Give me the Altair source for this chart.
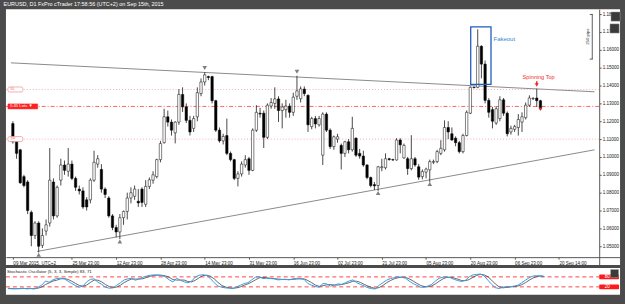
import json
import altair as alt
import pandas as pd

# ---------------- data ----------------
opens = [1.1187,1.1100,1.1040,1.0890,1.0860,1.0690,1.0560,1.0630,1.0505,1.0585,
         1.0630,1.0860,1.0670,1.0870,1.0955,1.0920,1.0960,1.0880,1.0820,1.0810,
         1.0760,1.0760,1.0870,1.0960,1.0930,1.0820,1.0770,1.0670,1.0605,1.0580,
         1.0660,1.0695,1.0770,1.0780,1.0752,1.0820,1.0735,1.0835,1.0870,1.0890,
         1.0985,1.1080,1.1225,1.1195,1.1135,1.1195,1.1350,1.1280,1.1205,1.1160,
         1.1225,1.1355,1.1420,1.1450,1.1450,1.1315,1.1150,1.1090,1.1120,1.1020,
         1.0985,1.0880,1.0905,1.0955,1.0990,1.0925,1.1150,1.1245,1.1245,1.1110,
         1.1285,1.1300,1.1325,1.1260,1.1265,1.1285,1.1250,1.1340,1.1326,1.1380,
         1.1345,1.1170,1.1215,1.1180,1.1010,1.1240,1.1150,1.1058,1.1100,1.1065,
         1.1020,1.1085,1.1040,1.1105,1.1020,1.1005,1.0955,1.0885,1.0845,1.0840,
         1.0940,1.0940,1.0990,1.0985,1.0983,1.1095,1.0995,1.0990,1.0935,1.0990,
         1.0945,1.0890,1.0915,1.0928,1.0970,1.0974,1.1020,1.1040,1.1165,1.1130,
         1.1105,1.1080,1.1030,1.1120,1.1245,1.1390,1.1390,1.1620,1.1520,1.1317,
         1.1265,1.1190,1.1215,1.1320,1.1245,1.1140,1.1155,1.1165,1.1195,1.1220,
         1.1290,1.1325,1.1330,1.1315]
highs = [1.1200,1.1110,1.1045,1.0900,1.0870,1.0700,1.0640,1.0640,1.0600,1.0650,
         1.1050,1.0880,1.0840,1.0990,1.0980,1.1050,1.0980,1.0890,1.0840,1.0830,
         1.0775,1.0880,1.1035,1.1010,1.0960,1.0830,1.0780,1.0680,1.0620,1.0680,
         1.0700,1.0800,1.0830,1.0840,1.0820,1.0830,1.0870,1.0885,1.0920,1.0990,
         1.1090,1.1270,1.1260,1.1210,1.1200,1.1380,1.1390,1.1300,1.1230,1.1230,
         1.1390,1.1440,1.1474,1.1455,1.1455,1.1320,1.1165,1.1130,1.1215,1.1030,
         1.0990,1.0920,1.0975,1.1010,1.1000,1.1160,1.1290,1.1275,1.1260,1.1300,
         1.1330,1.1390,1.1340,1.1300,1.1320,1.1300,1.1360,1.1455,1.1395,1.1395,
         1.1350,1.1225,1.1230,1.1230,1.1250,1.1250,1.1160,1.1120,1.1130,1.1075,
         1.1090,1.1100,1.1225,1.1110,1.1045,1.1035,1.0960,1.0890,1.0860,1.0950,
         1.0990,1.1020,1.0995,1.0990,1.1105,1.1105,1.1075,1.1000,1.1122,1.1000,
         1.0960,1.0930,1.0940,1.0985,1.0985,1.1040,1.1094,1.1205,1.1200,1.1165,
         1.1115,1.1090,1.1130,1.1260,1.1395,1.1395,1.1715,1.1625,1.1540,1.1330,
         1.1280,1.1285,1.1340,1.1330,1.1255,1.1175,1.1180,1.1240,1.1250,1.1305,
         1.1345,1.1335,1.1382,1.1320]
lows = [1.1075,1.0990,1.0850,1.0830,1.0680,1.0500,1.0540,1.0465,1.0490,1.0560,
        1.0610,1.0650,1.0660,1.0840,1.0900,1.0890,1.0870,1.0810,1.0790,1.0710,
        1.0700,1.0740,1.0860,1.0940,1.0800,1.0770,1.0660,1.0590,1.0550,1.0540,
        1.0620,1.0650,1.0740,1.0760,1.0720,1.0720,1.0720,1.0820,1.0850,1.0880,
        1.0970,1.1075,1.1170,1.1120,1.1076,1.1180,1.1252,1.1190,1.1120,1.1140,
        1.1200,1.1340,1.1400,1.1430,1.1300,1.1140,1.1080,1.1070,1.1010,1.0975,
        1.0870,1.0835,1.0890,1.0940,1.0900,1.0920,1.1140,1.1220,1.1050,1.1100,
        1.1270,1.1270,1.1196,1.1160,1.1220,1.1220,1.1230,1.1320,1.1305,1.1340,
        1.1140,1.1155,1.1160,1.1170,1.0955,1.1140,1.1045,1.1040,1.1080,1.0930,
        1.1000,1.1020,1.1030,1.1000,1.0990,1.0945,1.0875,1.0830,1.0815,1.0810,
        1.0920,1.0930,1.0980,1.0978,1.0980,1.1020,1.0990,1.0900,1.0925,1.0945,
        1.0872,1.0875,1.0880,1.0858,1.0960,1.0965,1.1010,1.1030,1.1100,1.1090,
        1.1060,1.1020,1.1020,1.1115,1.1240,1.1385,1.1385,1.1440,1.1300,1.1220,
        1.1160,1.1180,1.1200,1.1230,1.1115,1.1125,1.1140,1.1120,1.1140,1.1210,
        1.1280,1.1320,1.1280,1.1260]
closes = [1.1085,1.1020,1.0855,1.0840,1.0700,1.0560,1.0630,1.0500,1.0560,1.0620,
          1.0870,1.0670,1.0830,1.0955,1.0925,1.0960,1.0880,1.0830,1.0810,1.0720,
          1.0720,1.0870,1.0970,1.0990,1.0820,1.0790,1.0670,1.0605,1.0580,1.0660,
          1.0695,1.0770,1.0800,1.0820,1.0743,1.0745,1.0835,1.0872,1.0900,1.0985,
          1.1075,1.1225,1.1195,1.1150,1.1195,1.1350,1.1280,1.1205,1.1140,1.1215,
          1.1360,1.1420,1.1460,1.1445,1.1315,1.1150,1.1090,1.1115,1.1020,1.0985,
          1.0880,1.0905,1.0960,1.0985,1.0925,1.1150,1.1250,1.1240,1.1110,1.1290,
          1.1305,1.1325,1.1260,1.1280,1.1285,1.1250,1.1335,1.1370,1.1381,1.1355,
          1.1180,1.1215,1.1185,1.1215,1.1240,1.1150,1.1058,1.1113,1.1113,1.1020,
          1.1085,1.1040,1.1160,1.1010,1.1005,1.0955,1.0885,1.0840,1.0838,1.0945,
          1.0945,1.0990,1.0985,1.0983,1.1095,1.1068,1.1065,1.0935,1.0990,1.0955,
          1.0887,1.0918,1.0932,1.0974,1.0975,1.1030,1.1048,1.1165,1.1140,1.1095,
          1.1080,1.1030,1.1120,1.1250,1.1390,1.1388,1.1620,1.1520,1.1317,1.1250,
          1.1200,1.1270,1.1320,1.1245,1.1130,1.1160,1.1170,1.1210,1.1225,1.1290,
          1.1330,1.1328,1.1315,1.1270]

stoch_k = [10,8,9,10,12,8,10,
           8,18,30,55,48,62,70,72,68,
           55,40,28,18,25,50,65,68,
           48,35,18,12,14,30,45,62,
           68,72,60,68,78,85,90,92,
           90,88,80,62,50,72,60,50,
           45,55,80,90,93,88,70,45,
           25,18,14,12,10,20,30,40,
           45,62,78,82,70,72,70,68,
           62,64,66,62,68,72,68,65,
           40,30,22,18,40,38,25,30,
           38,35,45,55,62,45,35,25,
           15,9,8,30,45,60,70,75,
           80,78,72,55,40,30,18,18,
           25,35,55,72,78,80,75,65,
           58,52,60,80,92,95,97,85,
           60,35,15,10,18,22,20,25,
           30,45,60,75,85,87,87,83]
stoch_d = [11,10,9,9,10,10,10,
           9,12,19,34,44,55,60,68,70,
           65,54,41,29,24,31,47,61,
           60,50,34,22,15,19,30,46,
           58,67,67,67,69,77,84,89,
           91,90,86,77,64,61,61,61,
           52,50,60,75,88,90,84,68,
           47,29,19,15,12,14,20,30,
           38,49,62,74,77,75,71,70,
           67,65,64,64,65,67,69,68,
           58,45,31,23,27,32,34,31,
           31,34,39,45,54,54,47,35,
           25,16,11,16,28,45,58,68,
           75,78,77,68,56,42,29,22,
           20,26,38,54,68,77,78,73,
           66,58,57,64,77,89,95,92,
           81,60,37,20,14,17,20,22,
           25,33,45,60,73,82,85,82]

price_ticks = [1.05,1.06,1.07,1.08,1.09,1.10,1.11,1.12,1.13,1.14,1.15,1.16,1.17,1.18]
date_tick_idx = [0,16,28,40,52,64,76,88,100,112,124,136,148]
date_tick_labels = ["09 Mar 2015, UTC+2","25 Mar 23:00","12 Apr 23:00","28 Apr 23:00",
                    "14 May 23:00","31 May 23:00","16 Jun 23:00","02 Jul 23:00",
                    "21 Jul 23:00","05 Aug 23:00","20 Aug 23:00","06 Sep 23:00",
                    "20 Sep 14:00"]

trend_name = ["upper","upper","lower","lower"]
trend_idx = [-0.53, 157.67, 6.6, 157.67]
trend_price = [1.1527, 1.1365, 1.0471, 1.1040]

level_name = ["SL","Entry","TP"]
level_price = [1.1378, 1.1283, 1.1100]
level_tag = ["SL", "0.45 Lots \u25bc", "TP"]

pivot_idx = [52, 77, 7, 29, 99, 113]
pivot_price = [1.1498, 1.1477, 1.0452, 1.0527, 1.0798, 1.0848]
pivot_shape = ["triangle-down","triangle-down","triangle-up","triangle-up","triangle-up","triangle-up"]

fake_box_idx = [124.1, 129.6]
fake_box_price = [1.1728, 1.1406]

measure_price = [1.1798, 1.1548]
measure_text = "250 pips"

title_text = "EURUSD, D1 FxPro cTrader 17:58:56 (UTC+2) on Sep 15th, 2015"
stoch_title = "Stochastic Oscillator (5, 3, 3, Simple) 83, 71"
stoch_levels = [80, 20]

# ---------------- frames ----------------
n = len(opens)
candles = pd.DataFrame({"i": list(range(n)), "open": opens, "high": highs,
                        "low": lows, "close": closes})
trend = pd.DataFrame({"name": trend_name, "i": trend_idx, "p": trend_price})
levels = pd.DataFrame({"name": level_name, "p": level_price, "txt": level_tag})
pivots = pd.DataFrame({"i": pivot_idx, "p": pivot_price, "shape": pivot_shape})
fbox = pd.DataFrame({"i0": [fake_box_idx[0]], "i1": [fake_box_idx[1]],
                     "p0": [fake_box_price[0]], "p1": [fake_box_price[1]]})
stoch = pd.DataFrame({"i": list(range(len(stoch_k))), "k": stoch_k, "d": stoch_d})

FONT = "Liberation Sans"
X_DOMAIN = [-0.53, 163.23]
xs = alt.Scale(domain=X_DOMAIN, nice=False, zero=False)
ys = alt.Scale(domain=[1.039444, 1.182778], nice=False, zero=False)

label_expr = "%s[indexof(%s, datum.value)]" % (json.dumps(date_tick_labels), json.dumps(date_tick_idx))
x_axis = alt.Axis(values=date_tick_idx, labelExpr=label_expr, orient="bottom", offset=-8,
                  title=None, grid=False, domainColor="#555", tickColor="#555", tickSize=2,
                  labelFontSize=4.6, labelFont=FONT, labelColor="#222", labelAlign="left",
                  labelBaseline="top", labelPadding=1, labelOverlap=False, labelFlush=False,
                  labelBound=False)
y_axis = alt.Axis(values=price_ticks, format=".5f", orient="right", offset=-21, title=None,
                  grid=False, domainColor="#555", tickColor="#555", tickSize=2,
                  labelFontSize=4.6, labelFont=FONT, labelColor="#222", labelPadding=1,
                  labelOverlap=False, labelFlush=False, labelBound=False)


def X(f):
    return alt.X(f"{f}:Q", scale=xs, axis=x_axis)


def Y(f):
    return alt.Y(f"{f}:Q", scale=ys, axis=y_axis)


base = alt.Chart(candles)

trend_layer = alt.Chart(trend).mark_line(color="#8a8a8a", strokeWidth=1).encode(
    x=X("i"), y=Y("p"), detail="name:N")

lvl = alt.Chart(levels)
sl_tp = lvl.transform_filter("datum.name != 'Entry'").mark_rule(
    color="#f29a9a", strokeWidth=0.8, strokeDash=[1, 2]).encode(
    y=Y("p"), x=alt.value(0), x2=alt.value(598))
entry = lvl.transform_filter("datum.name == 'Entry'").mark_rule(
    color="#ff3b3b", strokeWidth=0.8, strokeDash=[4, 2, 1, 2]).encode(
    y=Y("p"), x=alt.value(0), x2=alt.value(598))

wicks = base.mark_rule(color="#1a1a1a", strokeWidth=0.8).encode(
    x=X("i"), y=Y("low"), y2="high")
bodies = base.mark_bar(width=2.4, stroke="#000", strokeWidth=0.5).encode(
    x=X("i"), y=Y("open"), y2="close",
    fill=alt.condition("datum.close >= datum.open", alt.value("white"), alt.value("black")))

piv = alt.Chart(pivots).mark_point(filled=True, color="#808080", size=22, opacity=1).encode(
    x=X("i"), y=Y("p"), shape=alt.Shape("shape:N", scale=None))

fake_rect = alt.Chart(fbox).mark_rect(fillOpacity=0, stroke="#1f5bbf", strokeWidth=1.3).encode(
    x=X("i0"), x2="i1", y=Y("p0"), y2="p1")

ann = pd.DataFrame({"txt": ["Fakeout"], "i": [130.3], "p": [1.1662]})
fake_txt = alt.Chart(ann).mark_text(align="left", baseline="middle", fontSize=6,
                                    font=FONT, color="#2f86d0").encode(
    x=X("i"), y=Y("p"), text="txt:N")

spin = pd.DataFrame({"txt": ["Spinning Top"], "i": [142.5], "p": [1.1445]})
spin_txt = alt.Chart(spin).mark_text(align="center", baseline="middle", fontSize=5.6,
                                     font=FONT, color="#ee2a2a").encode(
    x=X("i"), y=Y("p"), text="txt:N")
arrow_df = pd.DataFrame({"i": [142], "p": [1.1403], "top": [1.1424], "bot": [1.1408]})
arrow = alt.Chart(arrow_df).mark_point(shape="triangle-down", filled=True, color="#ee2a2a",
                                       size=16, opacity=1).encode(x=X("i"), y=Y("p"))
arrow_stem = alt.Chart(arrow_df).mark_rule(color="#ee2a2a", strokeWidth=1.6).encode(
    x=X("i"), y=Y("top"), y2="bot")

last_df = pd.DataFrame({"i": [n - 1], "p": [closes[-1]]})
last_dot = alt.Chart(last_df).mark_point(filled=True, color="#ff2020", size=6, opacity=1).encode(
    x=X("i"), y=Y("p"))

# level tags on the left
tag_h = 0.0014
tag_box_sltp = lvl.transform_filter("datum.name != 'Entry'").transform_calculate(
    top=f"datum.p + {tag_h}", bot=f"datum.p - {tag_h}").mark_rect(
    fill="white", stroke="#f29a9a", strokeWidth=0.8, cornerRadius=1.5).encode(
    x=alt.value(2), x2=alt.value(17), y=Y("top"), y2="bot")
tag_box_entry = lvl.transform_filter("datum.name == 'Entry'").transform_calculate(
    top=f"datum.p + {tag_h}", bot=f"datum.p - {tag_h}").mark_rect(
    fill="#ff1f1f", stroke="#ff1f1f", strokeWidth=0.5).encode(
    x=alt.value(2), x2=alt.value(32), y=Y("top"), y2="bot")
tag_txt = lvl.mark_text(align="left", baseline="middle", fontSize=4.3, font=FONT).encode(
    x=alt.value(4), y=Y("p"), text="txt:N",
    color=alt.condition("datum.name == 'Entry'", alt.value("white"), alt.value("#f08080")))

# measurement bracket (top right)
meas = pd.DataFrame({"top": [measure_price[0]], "bot": [measure_price[1]],
                     "mid": [(measure_price[0] + measure_price[1]) / 2], "txt": [measure_text]})
meas_ends = pd.DataFrame({"p": measure_price})
meas_line = alt.Chart(meas).mark_rule(color="#333", strokeWidth=0.8).encode(
    x=alt.value(591), y=Y("top"), y2="bot")
meas_ticks = alt.Chart(meas_ends).mark_rule(color="#333", strokeWidth=0.8).encode(
    x=alt.value(588.5), x2=alt.value(591.5), y=Y("p"))
meas_txt = alt.Chart(meas).mark_text(angle=270, fontSize=4.3, font=FONT, color="#333",
                                     align="center", baseline="middle").encode(
    x=alt.value(587), y=Y("mid"), text="txt:N")

# tool icons (top right)
icons = pd.DataFrame({"n": [1, 2]})
icon1 = alt.Chart(icons).transform_filter("datum.n == 1").mark_square(
    size=85, filled=True, color="#3a3a3a", opacity=1, stroke="#999", strokeWidth=0.5).encode(
    x=alt.value(614.5), y=alt.value(7.5))
icon2 = alt.Chart(icons).transform_filter("datum.n == 2").mark_square(
    size=85, filled=True, color="#3a3a3a", opacity=1, stroke="#999", strokeWidth=0.5).encode(
    x=alt.value(613.5), y=alt.value(19.5))

main = alt.layer(
    trend_layer, sl_tp, entry, wicks, bodies, piv, fake_rect, fake_txt, spin_txt,
    arrow_stem, arrow, last_dot, tag_box_sltp, tag_box_entry, tag_txt,
    meas_line, meas_ticks, meas_txt, icon1, icon2
).properties(width=619, height=258)

# ---------------- stochastic panel ----------------
sxs = alt.Scale(domain=X_DOMAIN, nice=False, zero=False)
sys_ = alt.Scale(domain=[-28, 133], nice=False, zero=False)
sbase = alt.Chart(stoch)
lv = pd.DataFrame({"v": stoch_levels, "txt": [str(v) for v in stoch_levels]})
s_rules = alt.Chart(lv).mark_rule(color="#ff3030", strokeWidth=0.9, strokeDash=[4, 3]).encode(
    y=alt.Y("v:Q", scale=sys_, axis=None), x=alt.value(0), x2=alt.value(598))
s_d = sbase.mark_line(color="#444444", strokeWidth=0.8).encode(
    x=alt.X("i:Q", scale=sxs, axis=None), y=alt.Y("d:Q", scale=sys_, axis=None))
s_k = sbase.mark_line(color="#3b9be0", strokeWidth=1).encode(
    x=alt.X("i:Q", scale=sxs, axis=None), y=alt.Y("k:Q", scale=sys_, axis=None))
s_tag_box = alt.Chart(lv).transform_calculate(top="datum.v + 14", bot="datum.v - 14").mark_rect(
    fill="#ff1a1a", cornerRadius=1).encode(
    x=alt.value(598), x2=alt.value(618), y=alt.Y("top:Q", scale=sys_, axis=None), y2="bot:Q")
s_tag_txt = alt.Chart(lv).mark_text(fontSize=4.5, font=FONT, color="white", align="center",
                                    baseline="middle").encode(
    x=alt.value(606), y=alt.Y("v:Q", scale=sys_, axis=None), text="txt:N")
s_title_df = pd.DataFrame({"txt": [stoch_title]})
s_title = alt.Chart(s_title_df).mark_text(align="left", baseline="middle", fontSize=4.4,
                                          font=FONT, color="#222").encode(
    x=alt.value(1), y=alt.value(3.5), text="txt:N")
s_icon = alt.Chart(s_title_df).mark_square(size=64, filled=True, color="#3a3a3a", opacity=1,
                                           stroke="#999", strokeWidth=0.5).encode(
    x=alt.value(613.5), y=alt.value(5.5))

stoch_chart = alt.layer(s_rules, s_d, s_k, s_tag_box, s_tag_txt, s_title, s_icon).properties(
    width=619, height=27)

chart = alt.vconcat(main, stoch_chart, spacing=3).properties(
    title=alt.TitleParams(title_text, anchor="start", fontSize=5.5, color="white", font=FONT,
                          fontWeight="normal", offset=2, dx=-2),
    background="#4b4b4b",
    padding={"left": 3, "top": 0, "right": 3, "bottom": 8},
).configure_view(fill="white", stroke=None).resolve_scale(x="independent", y="independent")

chart.save("out.html", embed_options={"renderer": "svg", "actions": False})
